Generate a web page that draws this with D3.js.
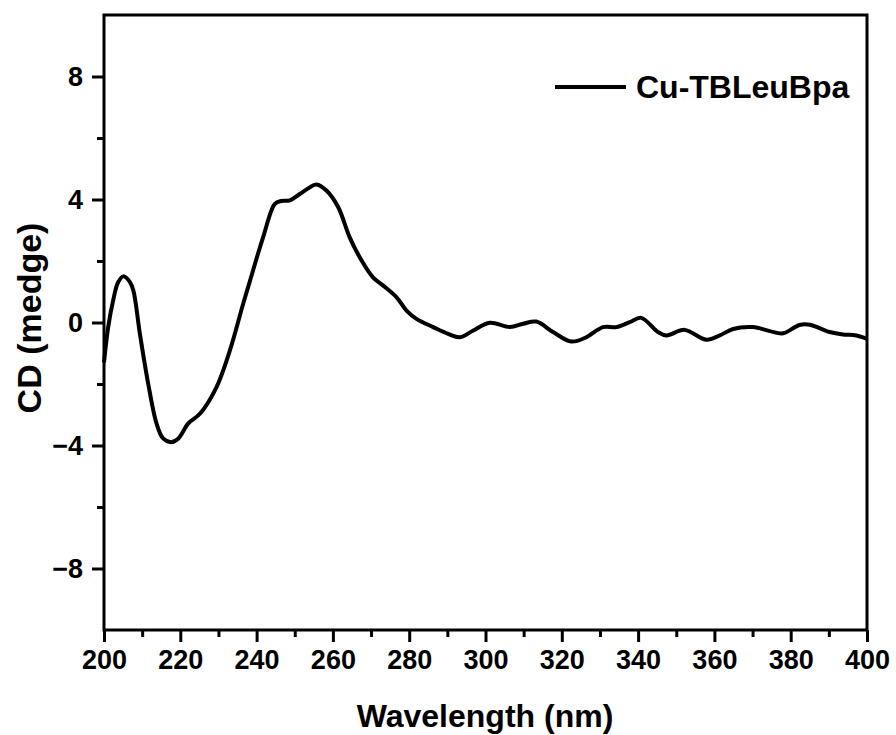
<!DOCTYPE html>
<html>
<head>
<meta charset="utf-8">
<script src="https://cdn.jsdelivr.net/npm/d3@7"></script>
<style>
  body { margin: 0; background: #fff; }
  text { font-family: "Liberation Sans", Arial, sans-serif; font-weight: bold; fill: #000; }
</style>
</head>
<body>
<div id="chart"></div>
<script>
// CD spectrum
var wavelength = [200, 201.1, 202.4, 203.7, 205.1, 206.8, 207.7, 209.4, 211.6, 213.8, 215.5, 217.7, 219.5, 222.1, 225.2, 229.5,
  233, 236.5, 238.3, 241.7, 244.8, 246.5, 248.7, 251.3, 254, 255.7, 258.3, 261.4, 264.4, 267.5, 270.5, 273.2, 276.7, 279.3,
  281.9, 286.3, 290.2, 293.3, 296.8, 301.1, 306.4, 309.9, 313.3, 317.7, 322.5, 326.4, 330.8, 334.3, 337.8, 340.8, 345.2,
  347.4, 352.2, 357.9, 361.4, 364.9, 370.1, 374.5, 378, 382.3, 385, 390.2, 393.7, 397.2, 400];
var cd = [-1.3, -0.15, 0.72, 1.31, 1.5, 1.31, 1.04, -0.36, -2.0, -3.3, -3.77, -3.89, -3.77, -3.28, -2.96, -2.1,
  -0.91, 0.62, 1.37, 2.77, 3.86, 3.95, 3.97, 4.18, 4.4, 4.49, 4.29, 3.75, 2.77, 2.02, 1.47, 1.2, 0.82, 0.39,
  0.12, -0.15, -0.37, -0.48, -0.26, -0.01, -0.15, -0.04, 0.03, -0.31, -0.62, -0.48, -0.15, -0.15, 0.01, 0.15, -0.31,
  -0.42, -0.24, -0.56, -0.42, -0.21, -0.15, -0.28, -0.35, -0.08, -0.07, -0.31, -0.39, -0.42, -0.53];
var seriesName = "Cu-TBLeuBpa";
var xTicks = [200, 220, 240, 260, 280, 300, 320, 340, 360, 380, 400];
var yTicks = [-8, -4, 0, 4, 8];

var margin = {top: 15, right: 29, bottom: 105, left: 104},
    width = 896 - margin.left - margin.right,
    height = 735 - margin.top - margin.bottom;

var svg = d3.select("#chart")
  .append("svg")
    .attr("width", 896)
    .attr("height", 735)
  .append("g")
    .attr("transform", "translate(" + margin.left + "," + margin.top + ")");

var x = d3.scaleLinear().domain([200, 400]).range([0, width]);
var y = d3.scaleLinear().domain([-10, 10]).range([height, 0]);

// minor ticks
svg.append("g")
  .attr("transform", "translate(0," + height + ")")
  .call(d3.axisBottom(x).tickValues(d3.range(210, 400, 20)).tickSize(7).tickFormat(""))
  .call(function(g) { g.select(".domain").remove(); g.selectAll("line").attr("stroke-width", 3); });
svg.append("g")
  .call(d3.axisLeft(y).tickValues([-6, -2, 2, 6]).tickSize(7).tickFormat(""))
  .call(function(g) { g.select(".domain").remove(); g.selectAll("line").attr("stroke-width", 3); });

// major ticks
svg.append("g")
  .attr("transform", "translate(0," + height + ")")
  .call(d3.axisBottom(x).tickValues(xTicks).tickSize(12).tickPadding(8))
  .call(function(g) {
    g.select(".domain").remove();
    g.selectAll("line").attr("stroke-width", 3);
    g.selectAll("text").style("font-size", "27px");
  });
svg.append("g")
  .call(d3.axisLeft(y).tickValues(yTicks).tickSize(12).tickPadding(9)
    .tickFormat(function(d) { return d < 0 ? "\u2212" + Math.abs(d) : d; }))
  .call(function(g) {
    g.select(".domain").remove();
    g.selectAll("line").attr("stroke-width", 3);
    g.selectAll("text").style("font-size", "27px");
  });

// frame
svg.append("rect")
  .attr("width", width)
  .attr("height", height)
  .attr("fill", "none")
  .attr("stroke", "#000")
  .attr("stroke-width", 3);

// curve
var points = wavelength.map(function(w, i) { return [w, cd[i]]; });
var line = d3.line()
  .x(function(d) { return x(d[0]); })
  .y(function(d) { return y(d[1]); })
  .curve(d3.curveCatmullRom.alpha(0.5));
svg.append("path")
  .datum(points)
  .attr("d", line)
  .attr("fill", "none")
  .attr("stroke", "#000")
  .attr("stroke-width", 4)
  .attr("stroke-linejoin", "round");

// legend
var legend = svg.append("g").attr("transform", "translate(" + (555 - margin.left) + "," + (87 - margin.top) + ")");
legend.append("line")
  .attr("x1", 0).attr("x2", 71)
  .attr("stroke", "#000").attr("stroke-width", 4);
legend.append("text")
  .attr("x", 81).attr("y", 11)
  .style("font-size", "32px")
  .text(seriesName);

// axis titles
svg.append("text")
  .attr("x", 485 - margin.left)
  .attr("y", 727 - margin.top)
  .attr("text-anchor", "middle")
  .style("font-size", "32px")
  .text("Wavelength (nm)");
svg.append("text")
  .attr("transform", "translate(" + (41 - margin.left) + "," + (318 - margin.top) + ") rotate(-90)")
  .attr("text-anchor", "middle")
  .style("font-size", "34px")
  .text("CD (medge)");
</script>
</body>
</html>
